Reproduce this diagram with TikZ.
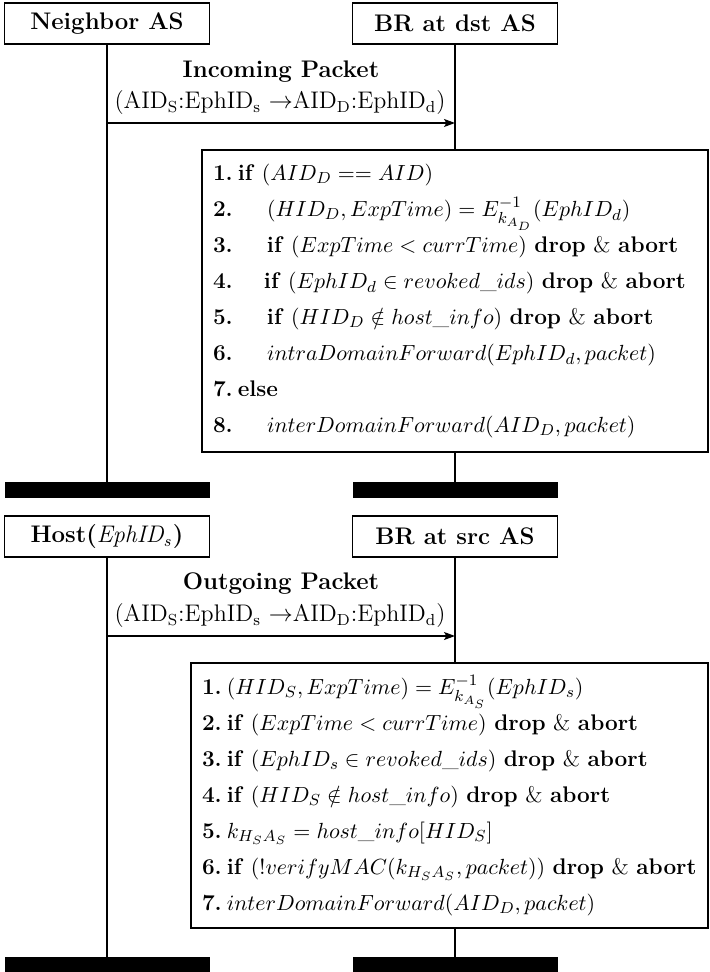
\documentclass[tikz,12pt,border=0pt]{standalone}
\usepackage{amssymb,amsmath}
\usepackage{tikz}
\usetikzlibrary{arrows,arrows.meta,shapes}
\tikzstyle{actor}=[draw,line width=0.6pt,minimum width=102.5pt,minimum height=20.5pt,inner sep=0pt,font=\bfseries]
\tikzstyle{endbar}=[fill=black,minimum width=102.5pt,minimum height=8pt,inner sep=0pt]
\tikzstyle{proc}=[draw,line width=0.6pt,align=left,inner xsep=5.5pt,inner ysep=0pt,font=\fontsize{11.3}{18}\selectfont]
\tikzstyle{lifeline}=[draw,line width=0.6pt,-]
\tikzstyle{msg}=[draw,line width=0.6pt,-{Stealth[length=5.5pt,width=4pt,inset=1.2pt]}]
\newcommand{\kw}[1]{\textbf{#1}}
\newcommand{\num}[1]{\textbf{#1.}\hspace{2.5pt}}
\newcommand{\ind}[2][27pt]{\makebox[#1][l]{\textbf{#2.}}}
\newcommand{\pkt}{(AID$_\mathrm{S}$:EphID$_\mathrm{s}$ $\rightarrow$AID$_\mathrm{D}$:EphID$_\mathrm{d}$)}

\begin{document}
\begin{tikzpicture}[x=0.5pt,y=-0.5pt]
        \useasboundingbox (0,0) rectangle (709,972);
        % incoming packet
        \node[actor] (neighbor) at (107,23.5) {Neighbor AS};
        \node[actor] (brdst) at (455,23.5) {BR at dst AS};
        \node[endbar] (nbend) at (107,490) {};
        \node[endbar] (dstend) at (455,490) {};
        \node[font=\bfseries] (inlabel) at (281,72) {Incoming Packet};
        \node (inpkt) at (280,103) {\pkt};
        \coordinate (inS) at (108,123);
        \coordinate (inE) at (455,123);
        \node[proc,minimum width=253pt,minimum height=151pt,text width=242pt] (dstproc) at (455,301) {%
          \mbox{\num{1}\kw{if} $(AID_D == AID)$}\\
          \mbox{\ind{2}$(HID_D, ExpTime) = E^{-1}_{k_{A_D}}(EphID_d)$}\\
          \mbox{\ind{3}\kw{if} $(ExpTime < currTime)$ \kw{drop} \& \kw{abort}}\\
          \mbox{\ind[25.5pt]{4}\kw{if} $(EphID_d \in revoked\_ids)$ \kw{drop} \& \kw{abort}}\\
          \mbox{\ind{5}\kw{if} $(HID_D \notin host\_info)$ \kw{drop} \& \kw{abort}}\\
          \mbox{\ind{6}$intraDomainForward(EphID_d, packet)$}\\
          \mbox{\num{7}\kw{else}}\\
          \mbox{\ind{8}$interDomainForward(AID_D, packet)$}};
        \draw[lifeline] (neighbor) to (nbend);
        \draw[lifeline] (brdst) to (dstproc);
        \draw[lifeline] (dstproc) to (dstend);
        \draw[msg] (inS) to (inE);
        % outgoing packet
        \node[actor] (host) at (107,536.5) {Host($\mathit{EphID_s}$)};
        \node[actor] (brsrc) at (455,536.5) {BR at src AS};
        \node[endbar] (hostend) at (107,965) {};
        \node[endbar] (srcend) at (455,965) {};
        \node[font=\bfseries] (outlabel) at (281,584) {Outgoing Packet};
        \node (outpkt) at (280,616) {\pkt};
        \coordinate (outS) at (108,636);
        \coordinate (outE) at (455,636);
        \node[proc,minimum width=258.5pt,minimum height=132.5pt,text width=247.5pt] (srcproc) at (449.5,795.5) {%
          \mbox{\num{1}$(HID_S, ExpTime) = E^{-1}_{k_{A_S}}(EphID_s)$}\\
          \mbox{\num{2}\kw{if} $(ExpTime < currTime)$ \kw{drop} \& \kw{abort}}\\
          \mbox{\num{3}\kw{if} $(EphID_s \in revoked\_ids)$ \kw{drop} \& \kw{abort}}\\
          \mbox{\num{4}\kw{if} $(HID_S \notin host\_info)$ \kw{drop} \& \kw{abort}}\\
          \mbox{\num{5}$k_{H_SA_S} = host\_info[HID_S]$}\\
          \mbox{\num{6}\kw{if} $(!verifyMAC(k_{H_SA_S}, packet))$ \kw{drop} \& \kw{abort}}\\
          \mbox{\num{7}$interDomainForward(AID_D, packet)$}};
        \draw[lifeline] (host) to (hostend);
        \draw[lifeline] (brsrc) to (brsrc |- srcproc.north);
        \draw[lifeline] (brsrc |- srcproc.south) to (srcend);
        \draw[msg] (outS) to (outE);
      \end{tikzpicture}
\end{document}
